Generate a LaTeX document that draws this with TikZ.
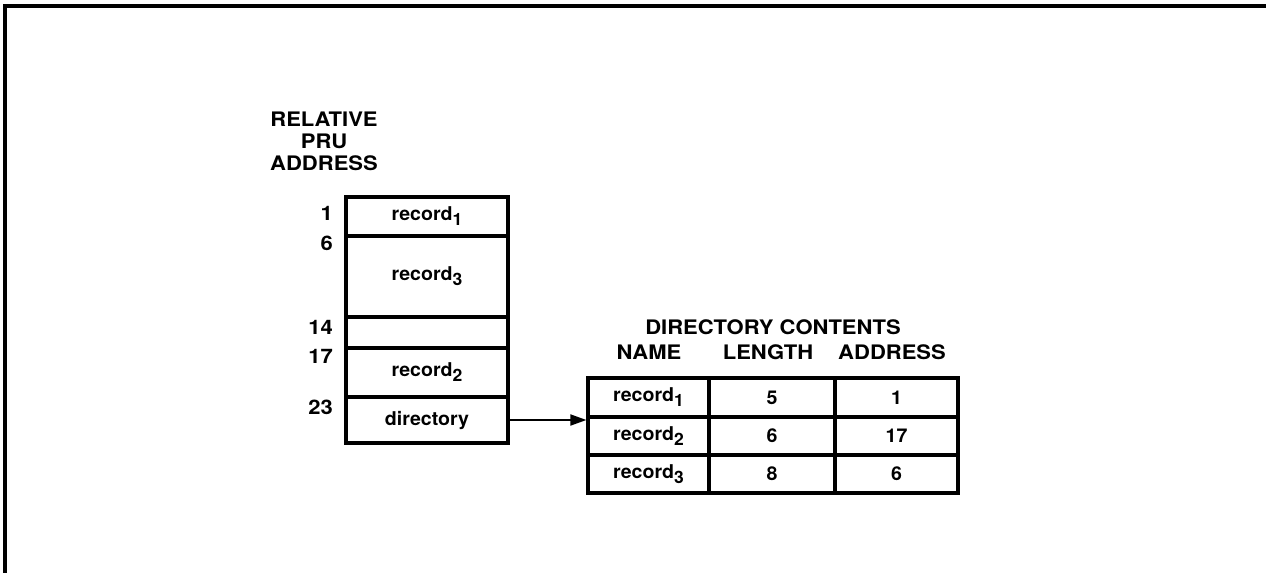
\documentclass[tikz,border=0pt]{standalone}
\usepackage{fontspec}
\setmainfont{TeX Gyre Heros}
\newfontfamily\widefont[FakeStretch=1.1]{TeX Gyre Heros}
\newfontfamily\cellfont[FakeStretch=1.03]{TeX Gyre Heros}
\usetikzlibrary{arrows.meta}

\newcommand{\recsub}[1]{record\raisebox{-0.5ex}{\fontsize{17}{17}\selectfont #1}}

\tikzset{
  lbl/.style={font=\widefont\fontsize{20}{22}\selectfont\bfseries, inner sep=0pt},
  cell/.style={draw, line width=3.2pt, inner sep=0pt, anchor=center,
               font=\cellfont\fontsize{19}{19}\selectfont\bfseries},
  addr/.style={lbl, anchor=east},
  link/.style={line width=1.8pt, -{Triangle[length=16pt,width=11pt]}},
  frame/.style={line width=3.2pt}
}

\begin{document}
\begin{tikzpicture}[x=1pt, y=-1pt]
  \useasboundingbox (0,0) rectangle (1266,573);

  % page frame (top and left rules)
  \coordinate (fTL) at (5,6);
  \coordinate (fTR) at (1266,6);
  \coordinate (fBL) at (5,573);
  \draw[frame] (fTR) -- (fTL) -- (fBL);

  % column heading of the file layout
  \node[lbl, align=center] (hdr) at (324,141) {RELATIVE\\PRU\\ADDRESS};

  % file layout, one cell per region
  \node[cell, minimum width=162pt, minimum height=39pt] (c1) at (427,216.5) {\recsub{1}};
  \node[cell, minimum width=162pt, minimum height=81pt] (c3) at (427,276.5) {\recsub{3}};
  \node[cell, minimum width=162pt, minimum height=31pt] (cg) at (427,332.5) {};
  \node[cell, minimum width=162pt, minimum height=49pt] (c2) at (427,372.5) {\recsub{2}};
  \node[cell, minimum width=162pt, minimum height=46pt] (cd) at (427,420) {directory};

  % relative PRU addresses
  \node[addr] (a1)  at (333,213) {1};
  \node[addr] (a6)  at (333,243) {6};
  \node[addr] (a14) at (333,327) {14};
  \node[addr] (a17) at (333,356) {17};
  \node[addr] (a23) at (333,407) {23};

  % directory table headings
  \node[lbl] (dh)  at (773,327) {DIRECTORY CONTENTS};
  \node[lbl] (hn)  at (649,352) {NAME};
  \node[lbl] (hl)  at (768,352) {LENGTH};
  \node[lbl] (ha)  at (892,352) {ADDRESS};

  % directory table
  \node[cell, minimum width=121pt, minimum height=39pt] (n1) at (648.5,397.5) {\recsub{1}};
  \node[cell, minimum width=126pt, minimum height=39pt] (l1) at (772,397.5) {5};
  \node[cell, minimum width=123pt, minimum height=39pt] (d1) at (896.5,397.5) {1};
  \node[cell, minimum width=121pt, minimum height=38pt] (n2) at (648.5,436) {\recsub{2}};
  \node[cell, minimum width=126pt, minimum height=38pt] (l2) at (772,436) {6};
  \node[cell, minimum width=123pt, minimum height=38pt] (d2) at (896.5,436) {17};
  \node[cell, minimum width=121pt, minimum height=38pt] (n3) at (648.5,474) {\recsub{3}};
  \node[cell, minimum width=126pt, minimum height=38pt] (l3) at (772,474) {8};
  \node[cell, minimum width=123pt, minimum height=38pt] (d3) at (896.5,474) {6};

  % directory pointer
  \draw[link] (cd.east) -- (cd.east -| n1.west);
\end{tikzpicture}
\end{document}
